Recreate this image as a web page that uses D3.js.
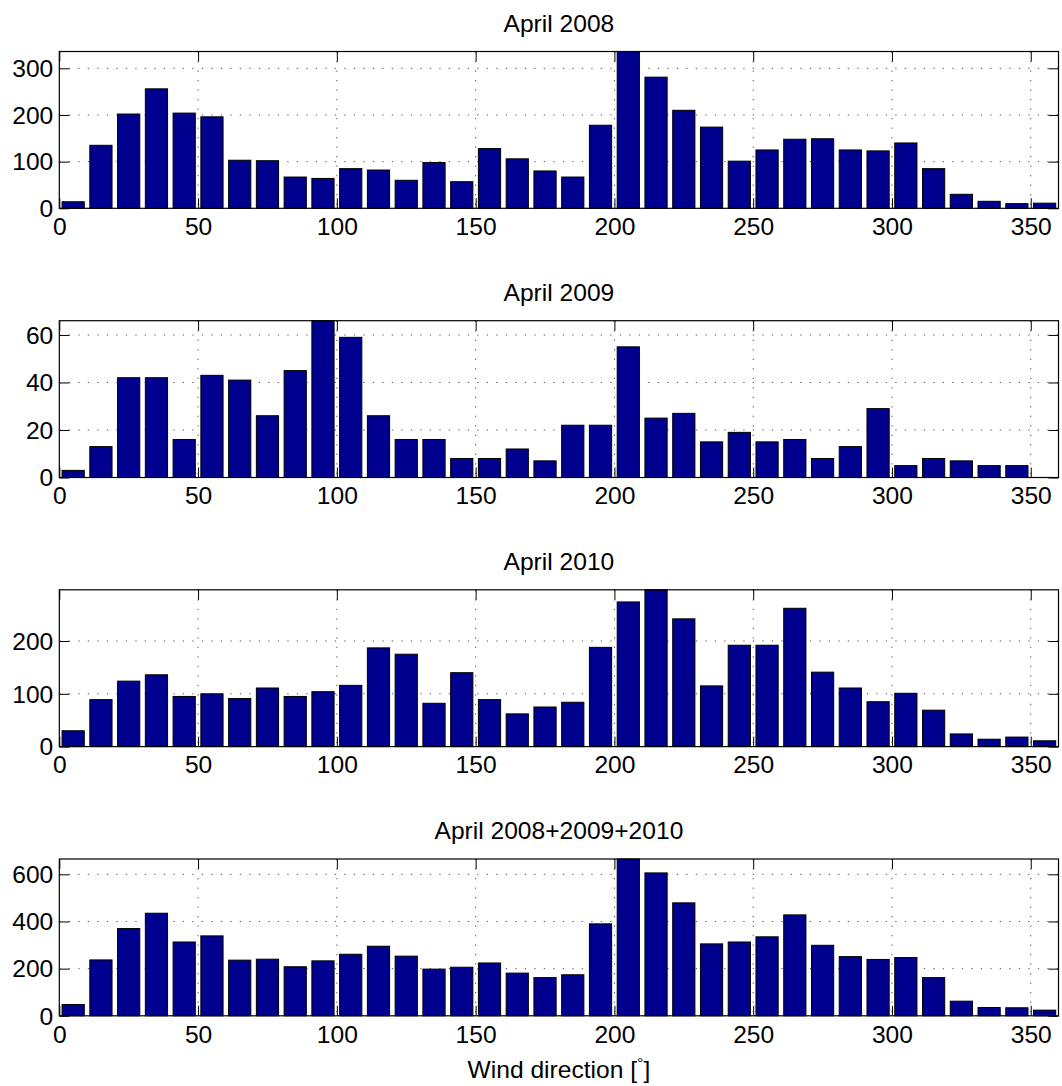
<!DOCTYPE html>
<html>
<head>
<meta charset="utf-8">
<script src="https://cdn.jsdelivr.net/npm/d3@7"></script>
<style>
  html, body { margin: 0; padding: 0; background: #fff; }
  svg { display: block; }
  text { font-family: "Liberation Sans", Arial, Helvetica, sans-serif; fill: #000; }
</style>
</head>
<body>
<script>
// ---- Data ----
const directions = [5,15,25,35,45,55,65,75,85,95,105,115,125,135,145,155,165,175,
                    185,195,205,215,225,235,245,255,265,275,285,295,305,315,325,335,345,355];
const titles = ["April 2008", "April 2009", "April 2010", "April 2008+2009+2010"];
const counts2008 = [14,135,202,256,204,196,103,102,67,64,85,82,60,98,57,128,106,80,
                    67,178,336,281,210,174,101,125,148,149,125,123,140,85,30,15,10,11];
const counts2009 = [3,13,42,42,16,43,41,26,45,66,59,26,16,16,8,8,12,7,
                    22,22,55,25,27,15,19,15,16,8,13,29,5,8,7,5,5,0];
const counts2010 = [30,89,124,136,95,100,91,111,95,104,116,187,175,82,140,89,62,75,
                    84,188,274,297,242,115,192,192,262,141,111,85,101,69,24,14,18,11];
const countsAll  = [48,237,370,435,313,339,236,240,208,233,261,295,253,198,206,224,181,162,
                    174,390,665,606,479,305,313,335,428,299,251,239,247,162,62,35,34,24];
const xTicks = [0,50,100,150,200,250,300,350];
const yTicks2008 = [0,100,200,300];
const yTicks2009 = [0,20,40,60];
const yTicks2010 = [0,100,200];
const yTicksAll  = [0,200,400,600];
const xLabel = "Wind direction [";

const series = [counts2008, counts2009, counts2010, countsAll];
const yTickSets = [yTicks2008, yTicks2009, yTicks2010, yTicksAll];

// ---- Layout ----
const W = 1062, H = 1086;
const left = 59.3, right = 1058.5;
const panelTops = [51.5, 320.7, 589.8, 859];
const panelH = 156.8;
const binWidth = 10, barFrac = 0.8;
const FS = 23, SX = 1.07;
const barColor = "#00008F";

const svg = d3.select("body").append("svg")
  .attr("width", W).attr("height", H)
  .style("background", "#fff");

const x = d3.scaleLinear().domain([0, 360]).range([left, right]);

series.forEach((vals, i) => {
  const top = panelTops[i], bottom = top + panelH;
  const y = d3.scaleLinear().domain([0, d3.max(vals)]).range([bottom, top]);
  const g = svg.append("g");

  // grid
  const grid = g.append("g").attr("stroke", "#555").attr("stroke-width", 1)
    .attr("stroke-dasharray", "1.3,8.2");
  grid.selectAll("line.gx").data(xTicks.filter(t => t > 0)).join("line")
    .attr("x1", d => x(d)).attr("x2", d => x(d))
    .attr("y1", top).attr("y2", bottom);
  grid.selectAll("line.gy").data(yTickSets[i].filter(t => t > 0)).join("line")
    .attr("x1", left).attr("x2", right)
    .attr("y1", d => y(d)).attr("y2", d => y(d));

  // bars
  const bw = x(binWidth * barFrac) - x(0);
  g.append("g").selectAll("rect").data(vals.map((v, k) => ({d: directions[k], v})))
    .join("rect")
    .attr("x", d => x(d.d) - bw / 2)
    .attr("width", bw)
    .attr("y", d => y(d.v))
    .attr("height", d => y(0) - y(d.v))
    .attr("fill", barColor)
    .attr("stroke", "#000")
    .attr("stroke-width", 1);

  // axes (ticks inward)
  const axB = g.append("g").attr("transform", `translate(0,${bottom})`)
    .call(d3.axisBottom(x).tickValues(xTicks).tickSize(-10).tickPadding(10.5).tickFormat(d3.format("d")));
  const axT = g.append("g").attr("transform", `translate(0,${top})`)
    .call(d3.axisTop(x).tickValues(xTicks).tickSize(-10).tickFormat(""));
  const axL = g.append("g").attr("transform", `translate(${left},0)`)
    .call(d3.axisLeft(y).tickValues(yTickSets[i]).tickSize(-10).tickPadding(6).tickFormat(d3.format("d")));
  const axR = g.append("g").attr("transform", `translate(${right},0)`)
    .call(d3.axisRight(y).tickValues(yTickSets[i]).tickSize(-10).tickFormat(""));

  [axB, axT, axL, axR].forEach(a => {
    a.select(".domain").remove();
    a.selectAll(".tick line").attr("stroke", "#000").attr("stroke-width", 1);
    a.selectAll(".tick text").attr("font-size", FS)
      .attr("font-family", '"Liberation Sans", Arial, sans-serif').attr("fill", "#000");
  });
  axB.selectAll(".tick text").attr("transform", `scale(${SX},1)`);
  axL.selectAll(".tick text").attr("transform", `scale(${SX},1)`).attr("x", -6 / SX).attr("dy", "0.36em");

  // frame
  g.append("rect").attr("x", left).attr("y", top)
    .attr("width", right - left).attr("height", panelH)
    .attr("fill", "none").attr("stroke", "#000").attr("stroke-width", 1.2);

  // title
  g.append("text")
    .attr("transform", `translate(${(left + right) / 2},${top - 20}) scale(${SX},1)`)
    .attr("text-anchor", "middle").attr("font-size", FS)
    .text(titles[i]);
});

// x-axis label with superscript degree
const xl = svg.append("text")
  .attr("transform", `translate(${(left + right) / 2},${1077.5}) scale(${SX},1)`)
  .attr("text-anchor", "middle").attr("font-size", FS);
xl.append("tspan").text(xLabel);
xl.append("tspan").attr("font-size", 15).attr("dy", -10).text("°");
xl.append("tspan").attr("dy", 10).text("]");
</script>
</body>
</html>
